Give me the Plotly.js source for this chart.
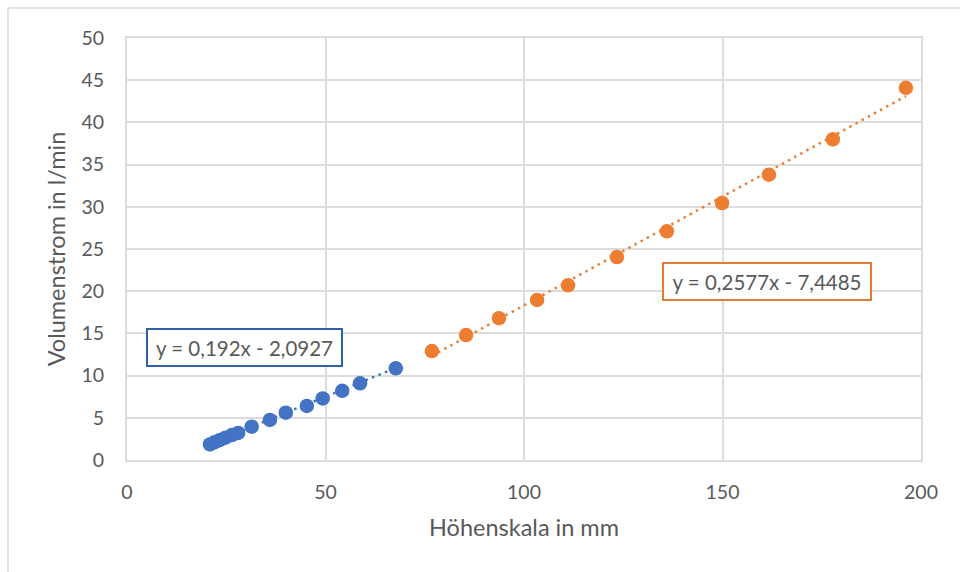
<!DOCTYPE html>
<html>
<head>
<meta charset="utf-8">
<script src="https://cdn.plot.ly/plotly-3.0.1.min.js"></script>
<style>
html,body{margin:0;padding:0;background:#fff;}
#chart{width:960px;height:572px;}
</style>
</head>
<body>
<div id="chart"></div>
<script>
// Series 1 (blue)
const blueX = [20.9, 22.0, 23.3, 24.8, 26.4, 28.0, 31.4, 36.0, 40.0, 45.3, 49.3, 54.2, 58.7, 67.7];
const blueY = [1.85, 2.1, 2.35, 2.65, 2.95, 3.2, 3.95, 4.74, 5.6, 6.4, 7.3, 8.2, 9.09, 10.86];
// Series 2 (orange)
const orangeX = [76.8, 85.4, 93.7, 103.3, 111.1, 123.4, 136.0, 149.9, 161.7, 177.8, 196.2];
const orangeY = [12.9, 14.8, 16.8, 18.96, 20.7, 24.05, 27.1, 30.45, 33.8, 38.0, 44.1];
// Trendline coefficients [slope, intercept]
const blueFit = [0.192, -2.0927];
const orangeFit = [0.2577, -7.4485];
const blueLabel = "y = 0,192x - 2,0927";
const orangeLabel = "y = 0,2577x - 7,4485";
const xTitle = "Höhenskala in mm";
const yTitle = "Volumenstrom in l/min";

const BLUE = "#4472c4", ORANGE = "#ed7d31";
const FONT = "Lato, 'Open Sans', sans-serif";

function trend(xs, fit){
  const x0 = Math.min(...xs), x1 = Math.max(...xs);
  return {x:[x0, x1], y:[fit[0]*x0+fit[1], fit[0]*x1+fit[1]]};
}
const bt = trend(blueX, blueFit), ot = trend(orangeX, orangeFit);

const data = [
  {x: bt.x, y: bt.y, mode:'lines', line:{color:BLUE, width:2.5, dash:'2.5px,4.5px'}, hoverinfo:'skip', showlegend:false},
  {x: ot.x, y: ot.y, mode:'lines', line:{color:ORANGE, width:2.5, dash:'2.5px,4.5px'}, hoverinfo:'skip', showlegend:false},
  {x: blueX, y: blueY, mode:'markers', marker:{color:BLUE, size:14.5}, showlegend:false},
  {x: orangeX, y: orangeY, mode:'markers', marker:{color:ORANGE, size:14.5}, showlegend:false}
];

const layout = {
  width:960, height:572,
  margin:{l:127, r:39, t:38, b:112},
  paper_bgcolor:'#fff', plot_bgcolor:'#fff',
  font:{family:FONT, color:'#595959', size:19},
  showlegend:false,
  xaxis:{
    range:[0,200], dtick:50, tick0:0,
    showgrid:true, gridcolor:'#dcdcdc', gridwidth:2,
    zeroline:false, showline:true, mirror:true, linecolor:'#dcdcdc', linewidth:2,
    ticks:'', ticklabelstandoff:14,
    tickfont:{family:FONT, size:19.5, color:'#595959'},
    title:{text:xTitle, font:{family:FONT, size:23.5, color:'#595959'}, standoff:17}
  },
  yaxis:{
    range:[0,50], dtick:5, tick0:0,
    showgrid:true, gridcolor:'#dcdcdc', gridwidth:2,
    zeroline:false, showline:true, mirror:true, linecolor:'#dcdcdc', linewidth:2,
    ticks:'', ticklabelstandoff:17,
    tickfont:{family:FONT, size:19.5, color:'#595959'},
    title:{text:yTitle, font:{family:FONT, size:23.5, color:'#595959'}, standoff:9}
  },
  annotations:[
    {x:29.5, y:13.3, xref:'x', yref:'y', text:blueLabel, showarrow:false,
     font:{family:FONT, size:20.5, color:'#595959'}, bgcolor:'#fff',
     bordercolor:'#3060a8', borderwidth:2, borderpad:5, width:183, height:25},
    {x:161.2, y:21.2, xref:'x', yref:'y', text:orangeLabel, showarrow:false,
     font:{family:FONT, size:20.5, color:'#595959'}, bgcolor:'#fff',
     bordercolor:'#e07b39', borderwidth:2, borderpad:5, width:196, height:25}
  ],
  shapes:[
    {type:'rect', xref:'paper', yref:'paper', x0:-0.1499, x1:1.06, y0:-0.28, y1:1.071,
     line:{color:'#d9d9d9', width:1.5}, fillcolor:'rgba(0,0,0,0)', layer:'below'}
  ]
};

Plotly.newPlot('chart', data, layout, {displayModeBar:false, staticPlot:true});
</script>
</body>
</html>
